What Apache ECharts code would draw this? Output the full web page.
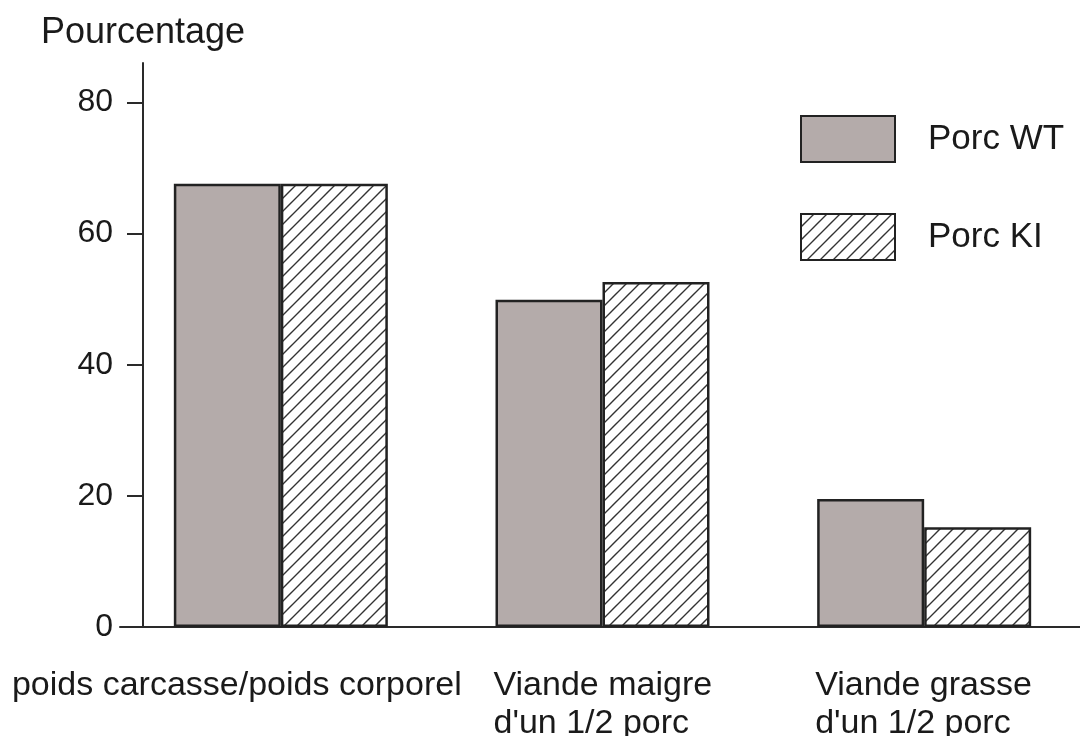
<!DOCTYPE html>
<html>
<head>
<meta charset="utf-8">
<script src="https://cdn.jsdelivr.net/npm/echarts@6/dist/echarts.min.js"></script>
<style>html,body{margin:0;padding:0;background:#fff}#c{width:1080px;height:736px}</style>
</head>
<body>
<div id="c"></div>
<script>
const categories = ['poids carcasse/poids corporel', "Viande maigre\nd'un 1/2 porc", "Viande grasse\nd'un 1/2 porc"];
const seriesNames = ['Porc WT', 'Porc KI'];
const wtValues = [67.6, 49.9, 19.5];
const kiValues = [67.6, 52.6, 15.2];
const yTicks = [0, 20, 40, 60, 80];

function hatch() {
  const s = 13;
  const c = document.createElement('canvas');
  c.width = s; c.height = s;
  const g = c.getContext('2d');
  g.fillStyle = '#ffffff';
  g.fillRect(0, 0, s, s);
  g.strokeStyle = '#333333';
  g.lineWidth = 1.4;
  g.beginPath();
  g.moveTo(-1, s + 1); g.lineTo(s + 1, -1);
  g.moveTo(-1, 1); g.lineTo(1, -1);
  g.moveTo(s - 1, s + 1); g.lineTo(s + 1, s - 1);
  g.stroke();
  return c;
}

const font = "'Liberation Sans', Arial, sans-serif";
const txt = '#1a1a1a';
const chart = echarts.init(document.getElementById('c'), null, {renderer: 'canvas'});
chart.setOption({
  animation: false,
  textStyle: {fontFamily: font, color: txt},
  grid: {left: 120, right: -5, top: 63, bottom: 109, containLabel: false, outerBoundsMode: 'none'},
  legend: {
    orient: 'vertical', left: 795, top: 110,
    itemWidth: 94, itemHeight: 46, itemGap: 50,
    selectedMode: false, icon: 'rect',
    textStyle: {fontSize: 35, color: txt, fontFamily: font, padding: [0, 0, 0, 28]},
    data: seriesNames
  },
  xAxis: {
    type: 'category', data: categories,
    axisLine: {lineStyle: {color: '#2a2a2a', width: 2}},
    axisTick: {alignWithLabel: true, length: 17, lineStyle: {color: '#2a2a2a', width: 2}},
    axisLabel: {
      margin: 40, fontSize: 34, color: txt, fontFamily: font, interval: 0,
      formatter: function (v, i) {
        if (i === 0) return '{p|' + v + '}';
        return v.split('\n').map(function (l) { return '{a|' + l + '}'; }).join('\n');
      },
      rich: {
        p: {fontSize: 34, fontFamily: font, color: txt, padding: [0, 88, 0, 0], lineHeight: 38},
        a: {fontSize: 34, fontFamily: font, color: txt, width: 218, align: 'left', lineHeight: 38}
      }
    }
  },
  yAxis: {
    type: 'value', min: 0, max: 86, interval: 20, offset: -23,
    name: 'Pourcentage', nameLocation: 'end', nameGap: 12,
    nameTextStyle: {fontSize: 36, color: txt, fontFamily: font},
    splitLine: {show: false},
    axisLine: {show: true, lineStyle: {color: '#2a2a2a', width: 2}},
    axisTick: {show: true, length: 16, customValues: yTicks, lineStyle: {color: '#2a2a2a', width: 2}},
    axisLabel: {customValues: yTicks, margin: 30, fontSize: 32, color: txt, fontFamily: font}
  },
  series: [
    {
      name: seriesNames[0], type: 'bar', data: wtValues, barWidth: 107, barGap: '0%',
      itemStyle: {color: '#b4abaa', borderColor: '#222', borderWidth: 2.5}
    },
    {
      name: seriesNames[1], type: 'bar', data: kiValues, barWidth: 107, barGap: '0%',
      itemStyle: {color: {image: hatch(), repeat: 'repeat'}, borderColor: '#222', borderWidth: 2.5}
    }
  ]
});
</script>
</body>
</html>
